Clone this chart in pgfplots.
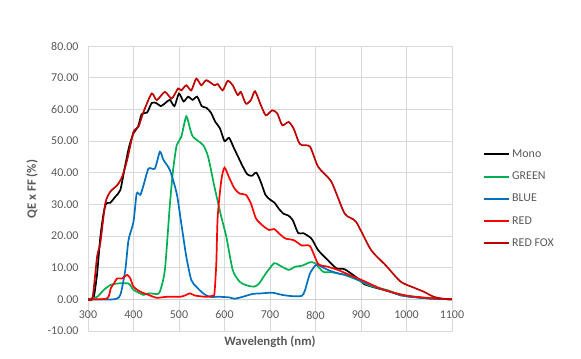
\documentclass[border=0pt]{standalone}
\usepackage{pgfplots}
\pgfplotsset{compat=1.18}
\usepackage{fontspec}
\setmainfont{Carlito}
\definecolor{txt}{HTML}{595959}
\definecolor{gridc}{HTML}{D9D9D9}
\definecolor{cgreen}{HTML}{00B050}
\definecolor{cblue}{HTML}{0070C0}
\definecolor{cred}{HTML}{FF0000}
\definecolor{cfox}{HTML}{C00000}
\begin{document}
\begin{tikzpicture}[font=\fontsize{12}{14}\selectfont]
\useasboundingbox (-88bp,-28bp) rectangle (493bp,331bp);
\begin{axis}[
  at={(0,0)}, anchor=south west,
  scale only axis, width=364bp, height=285bp,
  xmin=300, xmax=1100, ymin=-10, ymax=80,
  xtick={300,400,...,1100}, ytick={-10,0,...,80},
  grid=major, major grid style={gridc, line width=0.8bp},
  axis line style={gridc, line width=0.8bp},
  major tick length=0pt,
  tick label style={text=txt, font=\fontsize{12}{14}\selectfont},
  xticklabel style={anchor=center, yshift=16bp},
  yticklabel style={anchor=east, xshift=-6bp,
    /pgf/number format/.cd, fixed, fixed zerofill, precision=2, assume math mode=true},
  xticklabel style={/pgf/number format/.cd, assume math mode=true, 1000 sep={}},
  legend style={at={(1.077,0.464)}, anchor=west, draw=none, fill=none,
    font=\fontsize{12}{14}\selectfont, text=txt, row sep=9bp,
    /tikz/every even column/.append style={column sep=0pt}},
  legend cell align=left,
  legend image code/.code={\draw[#1, line width=2bp] (0bp,0bp) -- (25bp,0bp);},
  every axis plot/.append style={line width=1.7bp, smooth, tension=0.4},
]
\draw[gridc!80!black!60, line width=0.8bp] (axis cs:300,0) -- (axis cs:1100,0);
% Mono
\addplot[black] coordinates {
(300,0)(310,0.3)(313,0.8)(320,8)(327,19.5)(334,27)(340,30.3)(349,30.5)(360,32.4)(371,34.5)(380,41)(390,48)(400,52.5)(410,54.5)(418,58.5)(430,59)(440,62)(450,62)(460,61)(470,62)(480,63)(490,61)(500,65)(510,62.5)(520,64)(530,63)(540,64)(550,61)(560,60.5)(570,59)(580,56)(590,54)(600,50)(610,51)(620,48)(630,45)(640,42)(650,39.5)(660,39)(670,40)(680,37)(690,33)(700,31.5)(710,30.5)(720,28.5)(730,27)(740,26.5)(750,25)(762,20.9)(773,20.9)(791,19.2)(806,15.5)(827,12.4)(846,9.8)(864,9.5)(893,6.6)(907,4.8)(936,3.5)(958,2.7)(987,1.3)(1000,1.0)(1050,0.3)(1100,0)};
% Green
\addplot[cgreen] coordinates {
(300,0)(320,0.8)(335,3)(349,4.5)(364,5)(389,5)(400,3)(422,1.4)(433,1.9)(451,1.7)(458,2.4)(469,9.3)(480,30)(487,40.8)(495,48.7)(505,51.3)(516,57.8)(524,54)(531,51.3)(553,48.7)(564,45)(578,35.5)(593,26)(604,19.8)(618,9.3)(633,5.6)(647,4.5)(665,4)(676,5)(691,8.2)(709,11.4)(720,10.8)(741,9.3)(755,10.3)(770,10.6)(788,11.7)(799,11.4)(817,8.7)(838,8.5)(864,7.7)(893,6.1)(922,4.2)(958,2.9)(987,1.3)(1000,1.0)(1050,0.3)(1100,0)};
% Blue
\addplot[cblue] coordinates {
(300,0)(356,0)(371,1.4)(382,9.3)(389,18.7)(400,24.5)(407,33.4)(415,33)(422,36)(433,41.3)(447,41.3)(458,46.6)(466,44)(480,40.8)(495,33.4)(505,24)(516,13.5)(527,6.1)(538,4)(553,1.9)(567,0.8)(589,0.8)(611,0.6)(622,0.2)(640,0.8)(662,1.7)(683,1.9)(705,2.1)(727,1.4)(749,1.0)(770,1.1)(777,2.9)(788,8.2)(802,11)(813,10.3)(827,9.3)(849,8.2)(870,7.6)(900,5.8)(950,3)(1000,1.0)(1050,0.3)(1100,0)};
% Red
\addplot[cred] coordinates {
(300,0)(342,0.3)(350,3.5)(357,5)(364,6.6)(375,6.6)(386,7.7)(393,6.6)(400,4)(415,2.4)(433,1.4)(451,0.5)(473,0.8)(502,0.8)(513,1.2)(524,1.9)(535,1.2)(560,0.8)(575,1.2)(578,1.9)(582,11.4)(585,26)(593,37.6)(600,41.6)(611,38.2)(622,35)(633,33.4)(647,33)(658,30.3)(669,25.6)(683,23.4)(698,21.9)(709,22.2)(720,20.8)(734,19.2)(752,18.7)(770,17)(788,16.8)(806,11.2)(827,10.3)(849,9.3)(870,8)(900,6.2)(950,3)(1000,1.2)(1050,0.4)(1100,0)};
% Red Fox
\addplot[cfox] coordinates {
(300,0)(310,0.5)(320,13.5)(327,17.7)(338,30.3)(349,34)(364,36)(375,38.7)(386,44)(400,52.9)(411,54.5)(422,59.2)(440,65)(451,62.9)(469,65.5)(484,63.4)(498,66.6)(505,66)(516,67.6)(527,66)(538,69.7)(549,67.6)(560,69.2)(578,67.6)(585,68)(596,66)(607,69)(618,67.6)(629,64.5)(636,65.5)(647,61.8)(658,62.9)(667,65.7)(680,61.3)(691,58.1)(705,59.7)(716,58.7)(727,55)(741,56)(752,53.9)(763,49.7)(770,48.7)(788,48.2)(806,41.8)(835,37.1)(864,27.1)(889,24.5)(922,15.6)(954,10.8)(987,5.6)(1016,3.7)(1038,2.4)(1060,0.8)(1080,0.2)(1100,0)};
\legend{Mono, GREEN, BLUE, RED, RED FOX}
\end{axis}
\node[rotate=90, font=\fontsize{12.8}{14}\selectfont\bfseries, text=txt] at (-56bp,142bp) {QE x FF (\%)};
\node[font=\fontsize{12.8}{14}\selectfont\bfseries, text=txt] at (182bp,-11bp) {Wavelength (nm)};
\end{tikzpicture}
\end{document}
